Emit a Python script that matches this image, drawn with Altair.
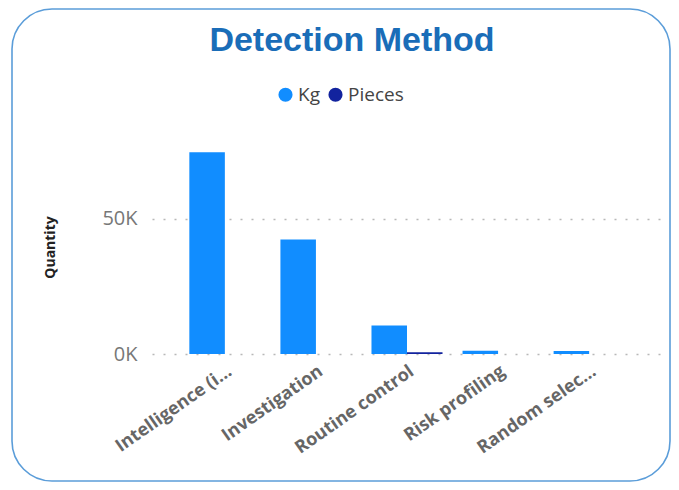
import altair as alt
import pandas as pd

categories = ["Intelligence (information)", "Investigation", "Routine control", "Risk profiling", "Random selection"]
tick_labels = ["Intelligence (i...", "Investigation", "Routine control", "Risk profiling", "Random selec..."]
kg_values = [74500, 42300, 10500, 1200, 1100]
pieces_values = [0, 0, 600, 0, 0]
series_names = ["Kg", "Pieces"]
series_colors = ["#118DFF", "#12239E"]

rows = []
for c, k, p in zip(categories, kg_values, pieces_values):
    rows.append({"category": c, "series": "Kg", "value": k})
    rows.append({"category": c, "series": "Pieces", "value": p})
df = pd.DataFrame(rows)

label_map = "{" + ", ".join(f"'{c}': '{t}'" for c, t in zip(categories, tick_labels)) + "}"

W, H = 510, 214

bars = alt.Chart(df).mark_bar().encode(
    x=alt.X("category:N", sort=categories,
            scale=alt.Scale(paddingInner=0.22, paddingOuter=0.41),
            axis=alt.Axis(title=None, labelAngle=-35, labelAlign="right", labelBaseline="top",
                          labelExpr=f"{label_map}[datum.label]",
                          labelFontSize=18, labelFontWeight="bold", labelColor="#666666",
                          labelFont="Open Sans", labelLimit=0, labelPadding=8,
                          ticks=False, domain=False, grid=False)),
    xOffset=alt.XOffset("series:N", sort=series_names,
                        scale=alt.Scale(paddingInner=0, paddingOuter=0)),
    y=alt.Y("value:Q", scale=alt.Scale(domain=[0, 79000], nice=False, zero=True),
            axis=alt.Axis(title="Quantity", values=[0, 50000],
                          labelExpr="datum.value / 1000 + 'K'",
                          labelFontSize=20, labelColor="#777777", labelFont="Open Sans",
                          labelPadding=15, ticks=False, domain=False,
                          grid=True, gridDash=[2, 9], gridColor="#b8b8b8", gridWidth=1.5,
                          titleFont="Open Sans", titleFontSize=14, titleFontWeight="bold",
                          titleColor="#222222", titlePadding=44)),
    color=alt.Color("series:N", sort=series_names,
                    scale=alt.Scale(domain=series_names, range=series_colors),
                    legend=alt.Legend(title=None, orient="none", direction="horizontal",
                                      legendX=124, legendY=-55, symbolType="circle",
                                      symbolSize=200, labelFontSize=19, labelFont="Open Sans",
                                      labelColor="#444444", columnPadding=6, labelOffset=3)),
)

frame = alt.Chart(pd.DataFrame({"k": [0]})).mark_rect(
    fill=None, stroke="#5b9dd9", strokeWidth=1.6, cornerRadius=40
).encode(x=alt.value(-140), x2=alt.value(518), y=alt.value(-131), y2=alt.value(341))

chart = alt.layer(frame, bars).properties(
    width=W, height=H,
    background="white",
    title=alt.TitleParams("Detection Method", fontSize=34, fontWeight="bold",
                          font="Liberation Sans", color="#1a6db8", frame="group",
                          anchor="middle", dx=-55, offset=-50),
    autosize=alt.AutoSizeParams(type="none"),
    padding={"left": 144, "top": 132, "right": 9, "bottom": 128},
).configure_view(stroke=None, strokeWidth=0)

chart.save("out.html", embed_options={"renderer": "svg", "actions": False})
